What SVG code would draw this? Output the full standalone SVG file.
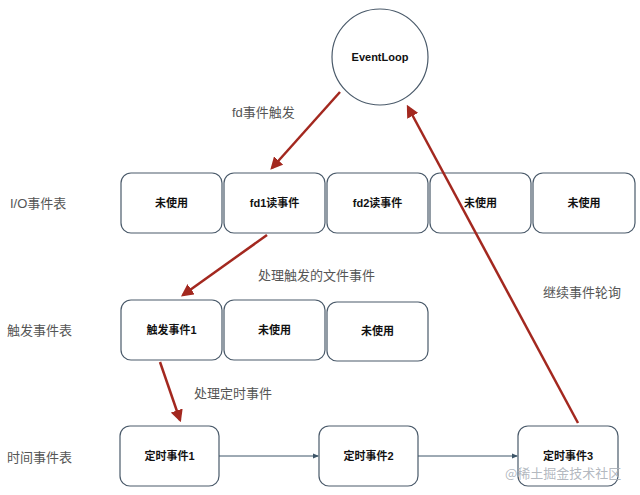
<svg xmlns="http://www.w3.org/2000/svg" width="640" height="495" viewBox="0 0 640 495">
<style>
.box{fill:#fff;stroke:#4a5a6a;stroke-width:1.2}
.bt{font-family:"Liberation Sans","Noto Sans CJK SC",sans-serif;font-size:11px;font-weight:bold;fill:#111;text-anchor:middle;dominant-baseline:central}
.lbl{font-family:"Liberation Sans","Noto Sans CJK SC",sans-serif;font-size:13px;fill:#555;dominant-baseline:central}
.red{stroke:#a3281f;stroke-width:2.5;fill:none;marker-end:url(#ah)}
.blue{stroke:#3d5568;stroke-width:1;fill:none;marker-end:url(#bh)}
</style>
<defs>
<marker id="ah" markerWidth="5" markerHeight="5" refX="4" refY="2.5" orient="auto" markerUnits="strokeWidth"><path d="M0,0 L5,2.5 L0,5 Z" fill="#a3281f"/></marker>
<marker id="bh" markerWidth="6" markerHeight="6" refX="5" refY="3" orient="auto" markerUnits="strokeWidth"><path d="M0,0.5 L6,3 L0,5.5 Z" fill="#3d5568"/></marker>
</defs>
<rect width="640" height="495" fill="#fff"/>
<g id="eventloop"><circle cx="380" cy="57" r="48" fill="#fff" stroke="#4a5a6a" stroke-width="1.2"/><text class="bt" x="380" y="57">EventLoop</text></g>
<g id="io1"><rect class="box" x="121" y="173" width="101" height="60" rx="10"/><text class="bt" x="171.5" y="203">未使用</text></g>
<g id="io2"><rect class="box" x="224" y="173" width="101" height="60" rx="10"/><text class="bt" x="274.5" y="203">fd1读事件</text></g>
<g id="io3"><rect class="box" x="327" y="173" width="101" height="60" rx="10"/><text class="bt" x="377.5" y="203">fd2读事件</text></g>
<g id="io4"><rect class="box" x="430" y="173" width="101" height="60" rx="10"/><text class="bt" x="480.5" y="203">未使用</text></g>
<g id="io5"><rect class="box" x="533" y="173" width="102" height="60" rx="10"/><text class="bt" x="584" y="203">未使用</text></g>
<g id="tr1"><rect class="box" x="121" y="300" width="101" height="60" rx="10"/><text class="bt" x="171.5" y="330">触发事件1</text></g>
<g id="tr2"><rect class="box" x="224" y="300" width="101" height="60" rx="10"/><text class="bt" x="274.5" y="330">未使用</text></g>
<g id="tr3"><rect class="box" x="327" y="302" width="101" height="59" rx="10"/><text class="bt" x="377.5" y="331">未使用</text></g>
<g id="tm1"><rect class="box" x="120" y="426" width="99" height="60" rx="10"/><text class="bt" x="169.5" y="456">定时事件1</text></g>
<g id="tm2"><rect class="box" x="319" y="426" width="99" height="60" rx="10"/><text class="bt" x="368.5" y="456">定时事件2</text></g>
<g id="tm3"><rect class="box" x="518" y="426" width="100" height="60" rx="10"/><text class="bt" x="568" y="456">定时事件3</text></g>
<g id="labels">
<text class="lbl" x="10" y="203">I/O事件表</text>
<text class="lbl" x="7" y="330">触发事件表</text>
<text class="lbl" x="7" y="457">时间事件表</text>
<text class="lbl" x="232" y="112">fd事件触发</text>
<text class="lbl" x="258" y="275">处理触发的文件事件</text>
<text class="lbl" x="194" y="393">处理定时事件</text>
<text class="lbl" x="543" y="292">继续事件轮询</text>
</g>
<g id="connectors">
<line class="red" x1="340" y1="92" x2="272" y2="168"/>
<line class="red" x1="267" y1="235" x2="183" y2="295"/>
<line class="red" x1="160" y1="362" x2="180" y2="420"/>
<line class="red" x1="578" y1="423" x2="408" y2="107"/>
<line class="blue" x1="219" y1="456" x2="318" y2="456"/>
<line class="blue" x1="418" y1="456" x2="517" y2="456"/>
</g>
<text x="505" y="472" font-family="'Noto Sans CJK SC',sans-serif" font-size="13" fill="#aab0b8" fill-opacity="0.9" dominant-baseline="central">@稀土掘金技术社区</text>
</svg>
